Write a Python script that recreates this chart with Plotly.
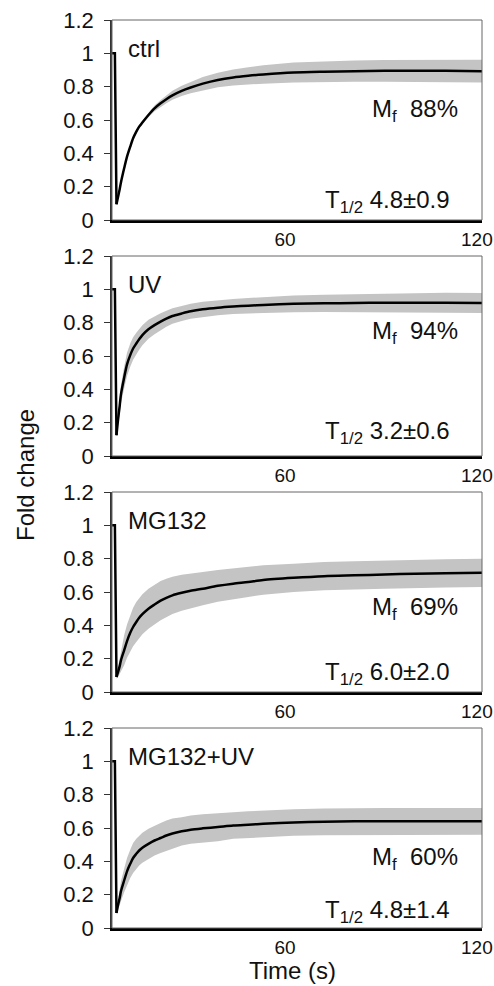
import plotly.graph_objects as go

# ---- data (time in s, read on the reference's x axis) ----
time_s = [5.9, 6.8, 7.3, 7.8, 8.3, 8.7, 9.7, 10.6, 11.6, 12.5, 13.5, 14.4, 15.4, 17.3, 19.2, 21.1,
          22.9, 24.8, 27.7, 30.5, 34.3, 39.0, 43.8, 48.5, 53.2, 62.7, 72.2, 81.7, 91.1, 100.6, 110.1, 121.6]

panel_labels = ["ctrl", "UV", "MG132", "MG132+UV"]
mf_labels = ["88%", "94%", "69%", "60%"]
t_half_labels = ["4.8±0.9", "3.2±0.6", "6.0±2.0", "4.8±1.4"]

ctrl_mean = [1, 1, 0.095, 0.14, 0.185, 0.225, 0.31, 0.38, 0.44, 0.49, 0.53, 0.56, 0.585, 0.63, 0.67, 0.70,
             0.725, 0.748, 0.775, 0.795, 0.818, 0.84, 0.855, 0.865, 0.873, 0.885, 0.89, 0.893, 0.895, 0.895, 0.895, 0.893]
ctrl_sd = [0, 0, 0.005, 0.005, 0.006, 0.006, 0.007, 0.008, 0.008, 0.009, 0.009, 0.01, 0.01, 0.013, 0.017, 0.02,
           0.024, 0.027, 0.031, 0.035, 0.04, 0.044, 0.048, 0.052, 0.055, 0.06, 0.062, 0.064, 0.065, 0.066, 0.067, 0.068]

uv_mean = [1, 1, 0.125, 0.22, 0.30, 0.37, 0.47, 0.55, 0.605, 0.645, 0.675, 0.70, 0.725, 0.76, 0.785, 0.806,
           0.824, 0.84, 0.855, 0.868, 0.88, 0.89, 0.897, 0.902, 0.906, 0.913, 0.916, 0.918, 0.92, 0.92, 0.92, 0.918]
uv_sd = [0, 0, 0.01, 0.03, 0.045, 0.055, 0.065, 0.07, 0.07, 0.068, 0.065, 0.063, 0.06, 0.057, 0.054, 0.05,
         0.048, 0.046, 0.045, 0.045, 0.045, 0.045, 0.045, 0.046, 0.048, 0.05, 0.052, 0.054, 0.056, 0.058, 0.06, 0.06]

mg_mean = [1, 1, 0.09, 0.12, 0.155, 0.19, 0.25, 0.305, 0.355, 0.39, 0.42, 0.445, 0.467, 0.50, 0.525, 0.548,
           0.565, 0.58, 0.595, 0.607, 0.62, 0.637, 0.65, 0.66, 0.672, 0.685, 0.695, 0.70, 0.705, 0.71, 0.712, 0.715]
mg_sd = [0, 0, 0.01, 0.03, 0.05, 0.07, 0.09, 0.10, 0.11, 0.115, 0.12, 0.12, 0.12, 0.12, 0.12, 0.118,
         0.115, 0.112, 0.108, 0.105, 0.10, 0.095, 0.092, 0.09, 0.088, 0.085, 0.085, 0.085, 0.085, 0.085, 0.085, 0.085]

mguv_mean = [1, 1, 0.09, 0.14, 0.18, 0.22, 0.285, 0.34, 0.385, 0.42, 0.445, 0.465, 0.482, 0.505, 0.525, 0.54,
             0.555, 0.567, 0.58, 0.59, 0.598, 0.606, 0.615, 0.62, 0.625, 0.633, 0.637, 0.64, 0.64, 0.64, 0.64, 0.64]
mguv_sd = [0, 0, 0.01, 0.03, 0.045, 0.06, 0.07, 0.08, 0.085, 0.09, 0.09, 0.09, 0.09, 0.09, 0.09, 0.09,
           0.09, 0.09, 0.085, 0.085, 0.085, 0.085, 0.08, 0.08, 0.08, 0.08, 0.08, 0.08, 0.08, 0.08, 0.08, 0.08]

y_ticks = [0, 0.2, 0.4, 0.6, 0.8, 1, 1.2]
y_tick_text = ["0", "0.2", "0.4", "0.6", "0.8", "1", "1.2"]
x_ticks = [60, 120]

means = [ctrl_mean, uv_mean, mg_mean, mguv_mean]
sds = [ctrl_sd, uv_sd, mg_sd, mguv_sd]

# ---- layout geometry ----
W, H = 494, 986
ml, mr, mt, mb = 112, 12, 20, 58
plot_w = W - ml - mr
plot_h = H - mt - mb
panel_h = 200
gap = (plot_h - 4 * panel_h) / 3

FONT = "Liberation Sans, Arial, sans-serif"
TXT = "#111111"
fig = go.Figure()

for i in range(4):
    top = plot_h - i * (panel_h + gap)
    bot = top - panel_h
    dom = [bot / plot_h, top / plot_h]
    xa = "x" if i == 0 else f"x{i+1}"
    ya = "y" if i == 0 else f"y{i+1}"
    m, s = means[i], sds[i]
    t_band = time_s[2:]
    upper = [a + b for a, b in zip(m[2:], s[2:])]
    lower = [a - b for a, b in zip(m[2:], s[2:])]
    fig.add_trace(go.Scatter(x=t_band + t_band[::-1], y=upper + lower[::-1],
                             fill="toself", fillcolor="#c4c4c4", line=dict(width=0),
                             mode="lines", hoverinfo="skip", showlegend=False,
                             xaxis=xa, yaxis=ya))
    # pre-bleach and bleach drop
    fig.add_trace(go.Scatter(x=time_s[:3], y=m[:3], mode="lines",
                             line=dict(color="black", width=2.5),
                             showlegend=False, xaxis=xa, yaxis=ya))
    # recovery
    fig.add_trace(go.Scatter(x=time_s[2:], y=m[2:], mode="lines",
                             line=dict(color="black", width=2.5, shape="spline", smoothing=0.8),
                             showlegend=False, xaxis=xa, yaxis=ya))
    xkey = "xaxis" if i == 0 else f"xaxis{i+1}"
    ykey = "yaxis" if i == 0 else f"yaxis{i+1}"
    fig.update_layout(**{
        xkey: dict(domain=[0, 1], range=[5.9, 121.6], anchor=ya, tickvals=x_ticks,
                   showline=True, linecolor="black", linewidth=2.5, ticks="",
                   showgrid=False, zeroline=False, ticklabelstandoff=0, automargin=False,
                   tickfont=dict(size=19, color=TXT, family=FONT)),
        ykey: dict(domain=dom, range=[0, 1.2], anchor=xa, tickvals=y_ticks, ticktext=y_tick_text,
                   showline=True, linecolor="#333333", linewidth=1.5, ticks="outside",
                   ticklen=6, tickcolor="#333333", showgrid=False, zeroline=False,
                   ticklabelstandoff=6, automargin=False,
                   tickfont=dict(size=22, color=TXT, family=FONT)),
    })
    xd = "x domain" if i == 0 else f"x{i+1} domain"
    yd = "y domain" if i == 0 else f"y{i+1} domain"
    fig.add_shape(type="rect", xref=xd, yref=yd, x0=0, x1=1, y0=0, y1=1,
                  line=dict(color="#666666", width=1))
    fig.add_annotation(x=10.3, y=1.03, xref=xa, yref=ya, text=panel_labels[i], showarrow=False,
                       xanchor="left", yanchor="middle", font=dict(size=24, color=TXT, family=FONT))
    mf_y = [0.66, 0.74, 0.50, 0.42][i]
    th_y = [0.11, 0.14, 0.11, 0.10][i]
    fig.add_annotation(x=114.6, y=mf_y, xref=xa, yref=ya, text=f"M<sub>f</sub>  {mf_labels[i]}", showarrow=False,
                       xanchor="right", yanchor="middle", font=dict(size=24, color=TXT, family=FONT))
    fig.add_annotation(x=112.1, y=th_y, xref=xa, yref=ya, text=f"T<sub>1/2</sub> {t_half_labels[i]}", showarrow=False,
                       xanchor="right", yanchor="middle", font=dict(size=24, color=TXT, family=FONT))

fig.add_annotation(x=(26 - ml) / plot_w, y=(H - mb - 475) / plot_h, xref="paper", yref="paper",
                   text="Fold change", textangle=-90, showarrow=False,
                   xanchor="center", yanchor="middle",
                   font=dict(size=24, color=TXT, family=FONT))
fig.add_annotation(x=(292 - ml) / plot_w, y=(H - mb - 970) / plot_h, xref="paper", yref="paper",
                   text="Time (s)", showarrow=False, xanchor="center", yanchor="middle",
                   font=dict(size=24, color=TXT, family=FONT))

fig.update_layout(width=W, height=H, margin=dict(l=ml, r=mr, t=mt, b=mb, autoexpand=False),
                  plot_bgcolor="white", paper_bgcolor="white", showlegend=False)

fig.write_html("out.html", config={"responsive": False, "displayModeBar": False},
               post_script="document.body.style.margin='0';document.body.style.overflow='hidden';")
